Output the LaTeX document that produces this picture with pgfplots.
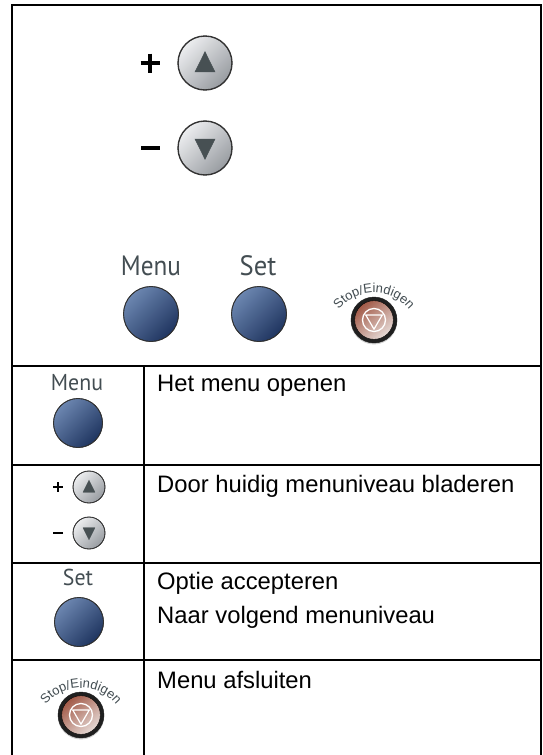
\documentclass[border=0pt]{standalone}
\usepackage{pgfplots}
\pgfplotsset{compat=1.18}
\usepackage{fontspec}
\setmainfont{Liberation Sans}
\newfontfamily\lab{PT Sans}
\usetikzlibrary{decorations.text}
\definecolor{labc}{HTML}{434D52}
\definecolor{bl}{HTML}{6C86B0}
\definecolor{bd}{HTML}{1F3560}
\definecolor{gl}{HTML}{ECEDEF}
\definecolor{gd}{HTML}{989CA1}
\definecolor{tri}{HTML}{475053}
\definecolor{rl}{HTML}{A25A48}
\definecolor{rd}{HTML}{E6DAD6}
\pgfdeclareplotmark{bluebtn}{%
  \shade[top color=bl,bottom color=bd,shading angle=45] (0pt,0pt) circle (\pgfplotmarksize);
  \draw[color=black!80,line width=0.9pt,fill=none] (0pt,0pt) circle (\pgfplotmarksize);
}
\pgfdeclareplotmark{greyup}{%
  \shade[top color=gl,bottom color=gd,shading angle=45] (0pt,0pt) circle (\pgfplotmarksize);
  \draw[color=black!80,line width=0.05\pgfplotmarksize,fill=none] (0pt,0pt) circle (\pgfplotmarksize);
  \fill[tri] (-0.37\pgfplotmarksize,-0.33\pgfplotmarksize) -- (0.37\pgfplotmarksize,-0.33\pgfplotmarksize) -- (0pt,0.42\pgfplotmarksize) -- cycle;
}
\pgfdeclareplotmark{greydown}{%
  \shade[top color=gl,bottom color=gd,shading angle=45] (0pt,0pt) circle (\pgfplotmarksize);
  \draw[color=black!80,line width=0.05\pgfplotmarksize,fill=none] (0pt,0pt) circle (\pgfplotmarksize);
  \fill[tri] (-0.37\pgfplotmarksize,0.33\pgfplotmarksize) -- (0.37\pgfplotmarksize,0.33\pgfplotmarksize) -- (0pt,-0.42\pgfplotmarksize) -- cycle;
}
\pgfdeclareplotmark{stopbtn}{%
  \fill[black!18] (0pt,-1.2pt) circle (\pgfplotmarksize);
  \fill[black!88] (0pt,0pt) circle (\pgfplotmarksize);
  \shade[top color=rl,bottom color=rd,shading angle=40] (0pt,0pt) circle (0.84\pgfplotmarksize);
  \draw[white,line width=1.3pt,fill=none] (0pt,0pt) circle (0.5\pgfplotmarksize);
  \draw[white,line width=1.2pt,line join=round,fill=none] (-0.36\pgfplotmarksize,0.22\pgfplotmarksize) -- (0.36\pgfplotmarksize,0.22\pgfplotmarksize) -- (0pt,-0.4\pgfplotmarksize) -- cycle;
}
\newcommand{\txt}{\fontsize{23.8}{26}\selectfont}
\begin{document}
\begin{tikzpicture}
\begin{axis}[
  scale only axis, width=542pt, height=755pt,
  xmin=0, xmax=542, ymin=0, ymax=755, y dir=reverse,
  axis lines=none, clip=true,
]
\path (axis cs:0,0) rectangle (axis cs:542,755);
% table rules
\addplot[black,line width=2.2pt,line join=miter] coordinates {(12,755) (12,5) (541,5) (541,755)};
\addplot[black,line width=2.2pt] coordinates {(12,366) (541,366)};
\addplot[black,line width=2.2pt] coordinates {(12,465) (541,465)};
\addplot[black,line width=2.2pt] coordinates {(12,563) (541,563)};
\addplot[black,line width=2.2pt] coordinates {(12,660) (541,660)};
\addplot[black,line width=2.2pt] coordinates {(144,366) (144,755)};
% buttons
\addplot[only marks,mark=bluebtn,mark size=27.5pt] coordinates {(151,314) (259,314)};
\addplot[only marks,mark=bluebtn,mark size=24.5pt] coordinates {(78,423) (79,622)};
\addplot[only marks,mark=greyup,mark size=27pt] coordinates {(205,63)};
\addplot[only marks,mark=greydown,mark size=27pt] coordinates {(205,148)};
\addplot[only marks,mark=greyup,mark size=16pt] coordinates {(89,487)};
\addplot[only marks,mark=greydown,mark size=16pt] coordinates {(89,533)};
\addplot[only marks,mark=stopbtn,mark size=23pt] coordinates {(374,320) (81,715)};
% plus and minus
\addplot[only marks,mark=+,mark size=9.5pt,mark options={line width=3.4pt,black}] coordinates {(150,63)};
\addplot[only marks,mark=-,mark size=9.5pt,mark options={line width=3.4pt,black}] coordinates {(150,148)};
\addplot[only marks,mark=+,mark size=5pt,mark options={line width=2pt,black}] coordinates {(58,487)};
\addplot[only marks,mark=-,mark size=5pt,mark options={line width=2pt,black}] coordinates {(58,533)};
% labels
\node[anchor=base,text=labc,xscale=0.9,font=\lab\fontsize{28}{30}\selectfont] at (axis cs:151,275) {Menu};
\node[anchor=base,text=labc,xscale=0.95,font=\lab\fontsize{28}{30}\selectfont] at (axis cs:258,275) {Set};
\node[anchor=base,text=labc,xscale=0.95,font=\lab\fontsize{23}{26}\selectfont] at (axis cs:77,390) {Menu};
\node[anchor=base,text=labc,xscale=0.95,font=\lab\fontsize{23}{26}\selectfont] at (axis cs:78,585) {Set};
% table text
\node[anchor=base west,inner sep=0pt,font=\txt] at (axis cs:157,391) {Het menu openen};
\node[anchor=base west,inner sep=0pt,font=\txt] at (axis cs:157,492) {Door huidig menuniveau bladeren};
\node[anchor=base west,inner sep=0pt,font=\txt] at (axis cs:157,589) {Optie accepteren};
\node[anchor=base west,inner sep=0pt,font=\txt] at (axis cs:157,623) {Naar volgend menuniveau};
\node[anchor=base west,inner sep=0pt,font=\txt] at (axis cs:157,688) {Menu afsluiten};
% curved text
\path[decorate,decoration={text along path,text align=center,
  text={|\fontsize{13}{14}\selectfont\color{labc}|Stop/Eindigen}}]
  (axis cs:374,338) ++(150:45pt) arc[start angle=150,end angle=30,radius=45pt];
\path[decorate,decoration={text along path,text align=center,
  text={|\fontsize{13}{14}\selectfont\color{labc}|Stop/Eindigen}}]
  (axis cs:81,733) ++(150:45pt) arc[start angle=150,end angle=30,radius=45pt];
\end{axis}
\end{tikzpicture}
\end{document}
